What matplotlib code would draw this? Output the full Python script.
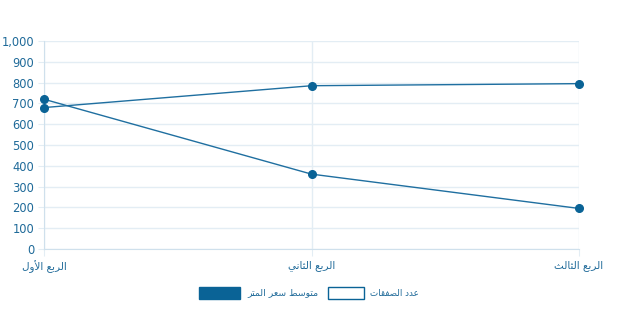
import matplotlib
matplotlib.use("Agg")
import matplotlib.pyplot as plt
from matplotlib.patches import Rectangle
from matplotlib.ticker import FuncFormatter

quarters = ["الربع الأول", "الربع الثاني", "الربع الثالث"]
series_names = ["متوسط سعر المتر", "عدد الصفقات"]
avg_price = [680, 785, 795]
deals = [720, 360, 195]
y_ticks = list(range(0, 1001, 100))

BLUE = "#0a6396"
LINE = "#1f6fa0"
GRID = "#e3edf4"
TEXT = "#1f6a99"

# matplotlib has no arabic shaping, so pick presentation forms by hand
# letter -> (first form codepoint, number of forms: 4 dual joining, 2 right joining)
FORMS = {
    "ا": (0xFE8D, 2), "أ": (0xFE83, 2), "ب": (0xFE8F, 4), "ت": (0xFE95, 4),
    "ث": (0xFE99, 4), "د": (0xFEA9, 2), "ر": (0xFEAD, 2), "س": (0xFEB1, 4),
    "ص": (0xFEB9, 4), "ط": (0xFEC1, 4), "ع": (0xFEC9, 4), "ف": (0xFED1, 4),
    "ق": (0xFED5, 4), "ل": (0xFEDD, 4), "م": (0xFEE1, 4), "ن": (0xFEE5, 4),
    "و": (0xFEED, 2), "ي": (0xFEF1, 4),
}
LAM_ALEF = {"ا": 0xFEFB, "أ": 0xFEF7}


def shape(text):
    # merge lam + alef into ligature tokens first
    tokens = []
    i = 0
    while i < len(text):
        if text[i] == "ل" and i + 1 < len(text) and text[i + 1] in LAM_ALEF:
            tokens.append(("LA", text[i + 1]))
            i += 2
        else:
            tokens.append((text[i], None))
            i += 1

    def dual(tok):
        return tok[0] in FORMS and FORMS[tok[0]][1] == 4

    def joining(tok):
        return tok[0] == "LA" or tok[0] in FORMS

    out = []
    for k, tok in enumerate(tokens):
        prev_join = k > 0 and dual(tokens[k - 1])
        if tok[0] == "LA":
            out.append(chr(LAM_ALEF[tok[1]] + (1 if prev_join else 0)))
            continue
        if tok[0] not in FORMS:
            out.append(tok[0])
            continue
        base, n = FORMS[tok[0]]
        next_join = n == 4 and k + 1 < len(tokens) and joining(tokens[k + 1])
        if prev_join and next_join:
            off = 3
        elif next_join:
            off = 2
        elif prev_join:
            off = 1
        else:
            off = 0
        out.append(chr(base + off))
    return "".join(out)[::-1]


plt.rcParams["font.family"] = ["DejaVu Sans"]

fig = plt.figure(figsize=(6.2, 3.1), dpi=100)
ax = fig.add_axes([44 / 620, 1 - 249 / 310, 535 / 620, 208 / 310])

x = list(range(len(quarters)))
ax.plot(x, avg_price, color=LINE, lw=1, marker="o", ms=5.5,
        mfc=BLUE, mec=BLUE, zorder=3, clip_on=False)
ax.plot(x, deals, color=LINE, lw=1, marker="o", ms=5.5,
        mfc=BLUE, mec=BLUE, zorder=3, clip_on=False)

ax.set_xlim(0, len(quarters) - 1)
ax.set_ylim(0, 1000)
ax.set_yticks(y_ticks)
ax.yaxis.set_major_formatter(FuncFormatter(lambda v, p: f"{int(v):,}"))
ax.set_xticks(x)
ax.set_xticklabels([shape(q) for q in quarters], fontsize=7.5, color=TEXT)

ax.grid(True, color=GRID, lw=1)
ax.set_axisbelow(True)
for s in ["top", "right"]:
    ax.spines[s].set_visible(False)
for s in ["left", "bottom"]:
    ax.spines[s].set_color("#cfe0ec")
ax.tick_params(axis="y", length=4, color=GRID, labelsize=8.3, labelcolor=TEXT, pad=3)
ax.tick_params(axis="x", length=5, color=GRID, pad=3)

# legend drawn by hand, chart.js style
fig.add_artist(Rectangle((199 / 620, 1 - 299 / 310), 41 / 620, 12 / 310,
                         transform=fig.transFigure, fc=BLUE, ec=BLUE, lw=1))
fig.text(247 / 620, 1 - 293 / 310, shape(series_names[0]), fontsize=6.7,
         color=TEXT, va="center", ha="left")
fig.add_artist(Rectangle((328 / 620, 1 - 299 / 310), 36 / 620, 12 / 310,
                         transform=fig.transFigure, fc="white", ec=BLUE, lw=1))
fig.text(370 / 620, 1 - 293 / 310, shape(series_names[1]), fontsize=6.3,
         color=TEXT, va="center", ha="left")

fig.savefig("out.png", dpi=100)
